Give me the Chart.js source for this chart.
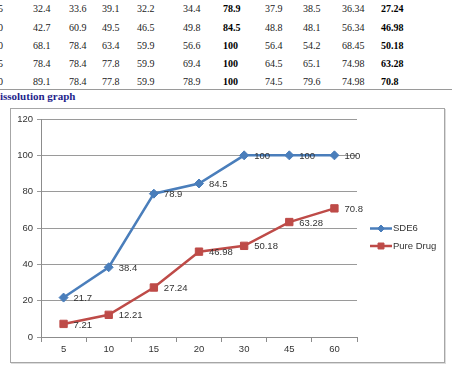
<!DOCTYPE html>
<html>
<head>
<meta charset="utf-8">
<script src="https://cdn.jsdelivr.net/npm/chart.js@4/dist/chart.umd.min.js"></script>
<style>
  html, body { margin: 0; padding: 0; background: #fff; }
  body { width: 452px; height: 372px; position: relative; overflow: hidden; }
  .cell { position: absolute; font: 10px "Liberation Serif", serif; color: #222; line-height: 12px; white-space: nowrap; }
  .cell.b { font-weight: bold; color: #000; }
  #rule { position: absolute; left: 0; top: 89px; width: 452px; height: 1px; background: #9a9a9a; }
  #heading { position: absolute; left: -8px; top: 90px; font: bold 11px "Liberation Serif", serif; color: #1f1f8c; line-height: 13px; white-space: nowrap; }
  #box { position: absolute; left: 10px; top: 108px; width: 435px; height: 255px; box-sizing: border-box; border: 1px solid #a6a6a6; box-shadow: 1px 1px 0 #dcdcdc; }
  #wrap { position: absolute; left: 0; top: 0; width: 433px; height: 253px; }
</style>
</head>
<body>
<div id="table"></div>
<div id="rule"></div>
<div id="heading">Dissolution graph</div>
<div id="box"><div id="wrap"><canvas id="c"></canvas></div></div>
<script>
// table fragment above the chart
var tableTimes = ['15', '20', '30', '45', '60'];
var tableRows = [
  ['32.4', '33.6', '39.1', '32.2', '34.4', '78.9', '37.9', '38.5', '36.34', '27.24'],
  ['42.7', '60.9', '49.5', '46.5', '49.8', '84.5', '48.8', '48.1', '56.34', '46.98'],
  ['68.1', '78.4', '63.4', '59.9', '56.6', '100', '56.4', '54.2', '68.45', '50.18'],
  ['78.4', '78.4', '77.8', '59.9', '69.4', '100', '64.5', '65.1', '74.98', '63.28'],
  ['89.1', '78.4', '77.8', '59.9', '78.9', '100', '74.5', '79.6', '74.98', '70.8']
];
var boldCols = [5, 9];

// chart data
var times = ['5', '10', '15', '20', '30', '45', '60'];
var sde6 = [21.7, 38.4, 78.9, 84.5, 100, 100, 100];
var pureDrug = [7.21, 12.21, 27.24, 46.98, 50.18, 63.28, 70.8];
var yTicks = [0, 20, 40, 60, 80, 100, 120];

var colX = [33, 69, 102, 137, 183, 223, 265, 303, 342, 381];
var rowY = [3, 22, 40, 58, 76];
var t = document.getElementById('table');
tableRows.forEach(function (row, r) {
  var s = document.createElement('span');
  s.className = 'cell';
  s.style.left = '-7px';
  s.style.top = rowY[r] + 'px';
  s.textContent = tableTimes[r];
  t.appendChild(s);
  row.forEach(function (v, i) {
    var c = document.createElement('span');
    c.className = 'cell' + (boldCols.indexOf(i) >= 0 ? ' b' : '');
    c.style.left = colX[i] + 'px';
    c.style.top = rowY[r] + 'px';
    c.textContent = v;
    t.appendChild(c);
  });
});

var FONT = '"Liberation Sans", Arial, sans-serif';
var TXT = '#333';

var labelPlugin = {
  id: 'pointLabels',
  afterDatasetsDraw: function (chart) {
    var ctx = chart.ctx;
    ctx.save();
    ctx.font = '9.5px ' + FONT;
    ctx.fillStyle = TXT;
    ctx.textBaseline = 'middle';
    ctx.textAlign = 'left';
    chart.data.datasets.forEach(function (ds, i) {
      chart.getDatasetMeta(i).data.forEach(function (p, j) {
        ctx.fillText(String(ds.data[j]), p.x + 10, p.y + 1);
      });
    });
    ctx.restore();
  }
};

var legendPlugin = {
  id: 'sideLegend',
  afterDraw: function (chart) {
    var ctx = chart.ctx;
    var x0 = chart.chartArea.right + 13;
    var mid = chart.height / 2;
    ctx.save();
    chart.data.datasets.forEach(function (ds, i) {
      var y = mid - 7 + i * 17.5;
      ctx.strokeStyle = ds.borderColor;
      ctx.lineWidth = 2.5;
      ctx.beginPath();
      ctx.moveTo(x0, y);
      ctx.lineTo(x0 + 22, y);
      ctx.stroke();
      ctx.fillStyle = ds.backgroundColor;
      ctx.strokeStyle = ds.borderColor;
      ctx.lineWidth = 1;
      Chart.helpers.drawPoint(ctx, { pointStyle: ds.pointStyle, radius: ds.pointRadius - 1, borderWidth: 1 }, x0 + 11, y);
      ctx.font = '9.5px ' + FONT;
      ctx.fillStyle = TXT;
      ctx.textBaseline = 'middle';
      ctx.fillText(ds.label, x0 + 23, y);
    });
    ctx.restore();
  }
};

new Chart(document.getElementById('c'), {
  type: 'line',
  data: {
    labels: times,
    datasets: [{
      label: 'SDE6',
      data: sde6,
      borderColor: '#4a7ebb',
      backgroundColor: '#4a7ebb',
      borderWidth: 2.5,
      pointStyle: 'rectRot',
      pointRadius: 4.5,
      pointBorderWidth: 1,
      tension: 0
    }, {
      label: 'Pure Drug',
      data: pureDrug,
      borderColor: '#be4b48',
      backgroundColor: '#be4b48',
      borderWidth: 2.5,
      pointStyle: 'rect',
      pointRadius: 5.2,
      pointBorderWidth: 1,
      tension: 0
    }]
  },
  options: {
    responsive: true,
    maintainAspectRatio: false,
    animation: false,
    layout: { padding: { top: 10, right: 87, bottom: 0, left: 0 } },
    scales: {
      x: {
        offset: true,
        grid: { offset: true, drawOnChartArea: false, drawTicks: true, tickLength: 5, color: '#8c8c8c' },
        border: { color: '#8c8c8c' },
        ticks: { font: { family: FONT, size: 9.5 }, color: TXT, padding: 2, maxRotation: 0 },
        afterFit: function (s) { s.height = 25; }
      },
      y: {
        min: 0,
        max: 120,
        afterBuildTicks: function (s) { s.ticks = yTicks.map(function (v) { return { value: v }; }); },
        grid: { color: '#9a9a9a', tickLength: 4 },
        border: { color: '#8c8c8c' },
        ticks: { font: { family: FONT, size: 9.5 }, color: TXT, padding: 4 },
        afterFit: function (s) { s.width = 30; }
      }
    },
    plugins: {
      legend: { display: false },
      tooltip: { enabled: false }
    }
  },
  plugins: [labelPlugin, legendPlugin]
});
</script>
</body>
</html>
